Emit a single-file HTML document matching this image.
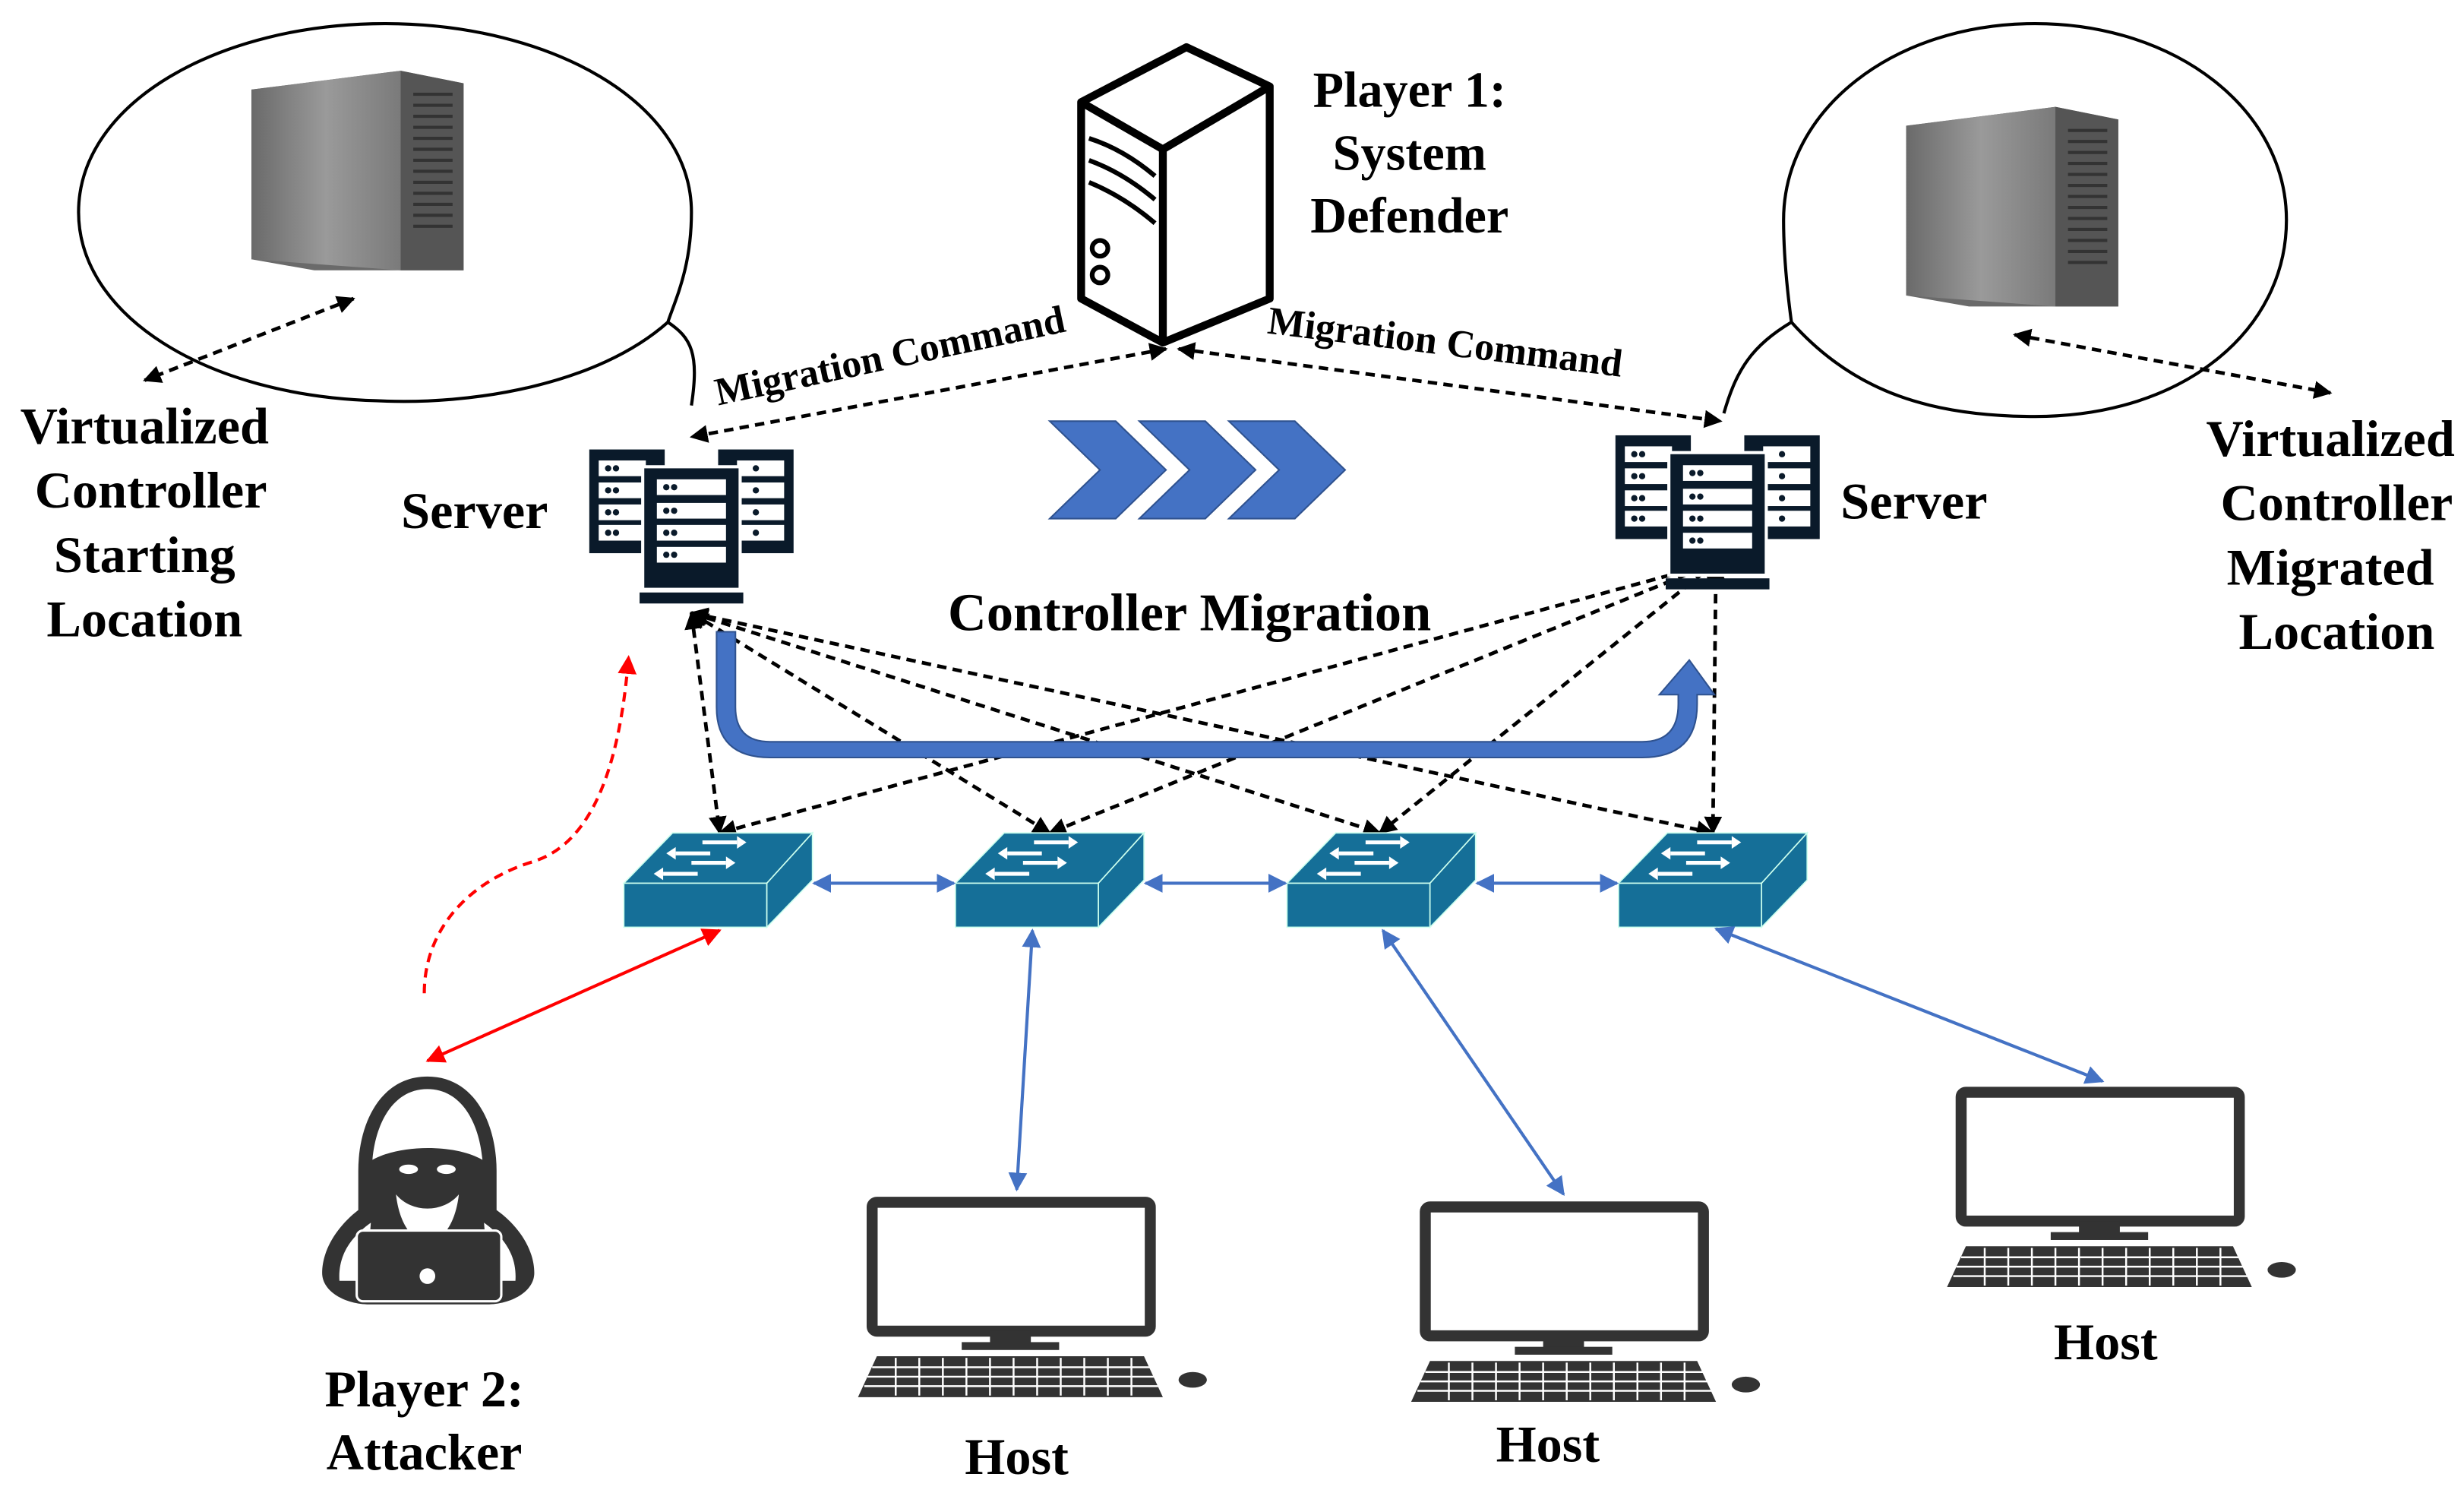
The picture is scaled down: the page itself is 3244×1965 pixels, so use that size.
<!DOCTYPE html>
<html><head><meta charset="utf-8"><style>
html,body{margin:0;padding:0;background:#fff;}
svg{display:block;}
text{font-family:"Liberation Serif",serif;font-weight:bold;fill:#000;}
</style></head><body>
<svg width="3244" height="1965" viewBox="0 0 1568 950" preserveAspectRatio="none" xmlns="http://www.w3.org/2000/svg">
<defs>
<marker id="ak" viewBox="0 0 10 10" refX="9" refY="5" markerWidth="5" markerHeight="5" orient="auto-start-reverse"><path d="M0,0L10,5L0,10z" fill="#000"/></marker>
<marker id="ab" viewBox="0 0 10 10" refX="9" refY="5" markerWidth="6" markerHeight="6" orient="auto-start-reverse"><path d="M0,0L10,5L0,10z" fill="#4472C4"/></marker>
<marker id="ar" viewBox="0 0 10 10" refX="9" refY="5" markerWidth="6" markerHeight="6" orient="auto-start-reverse"><path d="M0,0L10,5L0,10z" fill="#f00"/></marker>
<linearGradient id="gs" x1="0" x2="1"><stop offset="0" stop-color="#6a6a6a"/><stop offset="0.5" stop-color="#9a9a9a"/><stop offset="1" stop-color="#7a7a7a"/></linearGradient>
<g id="srv">
 <rect x="0" y="2" width="48" height="66" fill="#0a1a2a"/>
 <rect x="82" y="2" width="48" height="66" fill="#0a1a2a"/>
 <g fill="#fff"><rect x="6" y="9" width="30" height="10"/><rect x="6" y="23" width="30" height="10"/><rect x="6" y="37" width="30" height="10"/><rect x="6" y="50" width="30" height="10"/>
 <rect x="94" y="9" width="30" height="10"/><rect x="94" y="23" width="30" height="10"/><rect x="94" y="37" width="30" height="10"/><rect x="94" y="50" width="30" height="10"/></g>
 <rect x="33" y="12" width="64" height="80" fill="#fff"/>
 <rect x="35" y="14" width="60" height="76" fill="#0a1a2a"/>
 <g fill="#fff"><rect x="43" y="21" width="44" height="10"/><rect x="43" y="36" width="44" height="10"/><rect x="43" y="50" width="44" height="10"/><rect x="43" y="64" width="44" height="10"/></g>
 <g fill="#0a1a2a"><circle cx="12" cy="14" r="2"/><circle cx="17" cy="14" r="2"/><circle cx="12" cy="28" r="2"/><circle cx="17" cy="28" r="2"/><circle cx="12" cy="42" r="2"/><circle cx="17" cy="42" r="2"/><circle cx="12" cy="55" r="2"/><circle cx="17" cy="55" r="2"/>
 <circle cx="49" cy="26" r="2"/><circle cx="54" cy="26" r="2"/><circle cx="49" cy="41" r="2"/><circle cx="54" cy="41" r="2"/><circle cx="49" cy="55" r="2"/><circle cx="54" cy="55" r="2"/><circle cx="49" cy="69" r="2"/><circle cx="54" cy="69" r="2"/>
 <circle cx="106" cy="14" r="2"/><circle cx="106" cy="28" r="2"/><circle cx="106" cy="42" r="2"/><circle cx="106" cy="55" r="2"/></g>
 <rect x="32" y="93" width="66" height="7" fill="#0a1a2a"/>
</g>
<g id="sw">
 <polygon points="0,32 31,0 120,0 91,32" fill="#156f98" stroke="#cfe" stroke-width="0.8"/>
 <rect x="0" y="32" width="91" height="28" fill="#156f98" stroke="#cfe" stroke-width="0.8"/>
 <polygon points="91,32 120,0 120,30 91,60" fill="#156f98" stroke="#cfe" stroke-width="0.8"/>
 <g stroke="#fff" stroke-width="2.5" fill="#fff">
 <line x1="50" y1="6" x2="72" y2="6"/><polygon points="72,2 78,6 72,10" stroke="none"/>
 <line x1="33" y1="13" x2="55" y2="13"/><polygon points="33,9 27,13 33,17" stroke="none"/>
 <line x1="43" y1="19" x2="65" y2="19"/><polygon points="65,15 71,19 65,23" stroke="none"/>
 <line x1="25" y1="26" x2="47" y2="26"/><polygon points="25,22 19,26 25,30" stroke="none"/></g>
</g>
<g id="pc">
 <rect x="5" y="0" width="177" height="82" rx="3" fill="none" stroke="#333" stroke-width="7"/>
 <rect x="80" y="82" width="26" height="8" fill="#333"/>
 <rect x="62" y="89" width="62" height="5" fill="#333"/>
 <polygon points="8,98 178,98 190,124 -4,124" fill="#333"/>
 <g stroke="#fff" stroke-width="1.2"><line x1="5" y1="105" x2="182" y2="105"/><line x1="2" y1="111" x2="185" y2="111"/><line x1="0" y1="117" x2="188" y2="117"/>
 <path d="M20 99V123M35 99V123M50 99V123M65 99V123M80 99V123M95 99V123M110 99V123M125 99V123M140 99V123M155 99V123M170 99V123"/></g>
 <ellipse cx="209" cy="113" rx="9" ry="5" fill="#333"/>
</g>
<g id="gsrv">
 <polygon points="0,12 95,0 135,8 135,127 40,127 0,120" fill="#6a6a6a"/>
 <polygon points="0,12 95,0 95,127 0,120" fill="url(#gs)"/>
 <polygon points="95,0 135,8 135,127 95,127" fill="#555"/>
 <g stroke="#333" stroke-width="2"><path d="M103 15H128M103 22H128M103 29H128M103 36H128M103 43H128M103 50H128M103 57H128M103 64H128M103 71H128M103 78H128M103 85H128M103 92H128M103 99H128"/></g>
</g>
</defs>

<path d="M440,258 C445,225 440,215 425,205 C380,245 300,258 240,255 C130,252 50,200 50,135 C50,65 140,15 245,15 C350,15 440,65 440,135 C440,170 430,190 425,205" fill="none" stroke="#000" stroke-width="2"/>
<path d="M1097,263 C1105,235 1115,220 1140,205 C1180,250 1230,265 1295,265 C1390,265 1455,210 1455,140 C1455,70 1385,15 1295,15 C1205,15 1135,70 1135,140 C1135,165 1138,190 1140,205" fill="none" stroke="#000" stroke-width="2"/>
<use href="#gsrv" x="160" y="45"/>
<use href="#gsrv" x="1213" y="68"/>

<g stroke="#000" stroke-width="5" fill="#fff" stroke-linejoin="round">
<polygon points="688,65 755,30 808,55 808,190 740,218 688,190"/>
<polyline points="688,65 740,95 808,55" fill="none"/>
<line x1="740" y1="95" x2="740" y2="218"/>
<path d="M693,88 Q715,95 735,112 M693,102 Q715,110 735,127 M693,116 Q715,125 735,142" fill="none" stroke-width="3"/>
<circle cx="700" cy="158" r="5" stroke-width="3"/><circle cx="700" cy="175" r="5" stroke-width="3"/>
</g>
<text x="897" y="68" font-size="32" text-anchor="middle">Player 1:</text>
<text x="897" y="108" font-size="32" text-anchor="middle">System</text>
<text x="897" y="148" font-size="32" text-anchor="middle">Defender</text>

<text font-size="25" transform="translate(457,258) rotate(-12)">Migration Command</text>
<text font-size="25" transform="translate(806,212) rotate(7)">Migration Command</text>

<g stroke="#000" stroke-width="2.3" stroke-dasharray="6,4" fill="none" marker-start="url(#ak)" marker-end="url(#ak)">
<line x1="742" y1="222" x2="440" y2="278"/>
<line x1="750" y1="222" x2="1095" y2="268"/>
<line x1="225" y1="190" x2="92" y2="242"/>
<line x1="1282" y1="213" x2="1483" y2="250"/>
<line x1="440" y1="390" x2="458" y2="530"/>
<line x1="440" y1="390" x2="668" y2="530"/>
<line x1="440" y1="390" x2="878" y2="530"/>
<line x1="440" y1="390" x2="1090" y2="530"/>
<line x1="1092" y1="358" x2="458" y2="530"/>
<line x1="1092" y1="358" x2="668" y2="530"/>
<line x1="1092" y1="358" x2="878" y2="530"/>
<line x1="1092" y1="358" x2="1090" y2="530"/>
</g>

<text x="92" y="282" font-size="33" text-anchor="middle">Virtualized</text>
<text x="96" y="323" font-size="33" text-anchor="middle">Controller</text>
<text x="92" y="364" font-size="33" text-anchor="middle">Starting</text>
<text x="92" y="405" font-size="33" text-anchor="middle">Location</text>
<text x="1483" y="290" font-size="33" text-anchor="middle">Virtualized</text>
<text x="1487" y="331" font-size="33" text-anchor="middle">Controller</text>
<text x="1483" y="372" font-size="33" text-anchor="middle">Migrated</text>
<text x="1487" y="413" font-size="33" text-anchor="middle">Location</text>

<use href="#srv" x="375" y="284"/>
<use href="#srv" x="1028" y="275"/>
<text x="302" y="336" font-size="33" text-anchor="middle">Server</text>
<text x="1218" y="330" font-size="33" text-anchor="middle">Server</text>

<g fill="#4472C4" stroke="#2f528f" stroke-width="1">
<polygon points="668,268 710,268 742,299 710,330 668,330 700,299"/>
<polygon points="725,268 767,268 799,299 767,330 725,330 757,299"/>
<polygon points="782,268 824,268 856,299 824,330 782,330 814,299"/>
</g>
<text x="757" y="401" font-size="34" text-anchor="middle">Controller Migration</text>

<path d="M456,402 V450 Q456,482 490,482 H1045 Q1080,482 1080,448 V442 H1091 L1075,420 L1056,442 H1068 V448 Q1068,472 1045,472 H490 Q468,472 468,450 V402 Z" fill="#4472C4" stroke="#2f528f" stroke-width="1"/>

<use href="#sw" x="397" y="530"/>
<use href="#sw" x="608" y="530"/>
<use href="#sw" x="819" y="530"/>
<use href="#sw" x="1030" y="530"/>

<g stroke="#4472C4" stroke-width="2" marker-start="url(#ab)" marker-end="url(#ab)">
<line x1="518" y1="562" x2="607" y2="562"/>
<line x1="729" y1="562" x2="818" y2="562"/>
<line x1="940" y1="562" x2="1029" y2="562"/>
<line x1="657" y1="592" x2="647" y2="757"/>
<line x1="880" y1="592" x2="995" y2="760"/>
<line x1="1092" y1="591" x2="1338" y2="688"/>
</g>

<line x1="458" y1="592" x2="272" y2="675" stroke="#f00" stroke-width="2" marker-start="url(#ar)" marker-end="url(#ar)"/>
<path d="M270,632 C270,590 300,560 340,548 C380,535 395,480 400,418" fill="none" stroke="#f00" stroke-width="2" stroke-dasharray="6,4" marker-end="url(#ar)"/>

<g fill="#333">
<path d="M272,685 C242,685 228,715 228,745 L228,770 C215,780 205,795 205,810 C205,822 220,830 235,830 L310,830 C325,830 340,822 340,810 C340,795 330,780 316,770 L316,745 C316,715 302,685 272,685 Z"/>
</g>
<path d="M272,693 C250,693 239,715 237,738 C255,728 290,728 307,738 C305,715 294,693 272,693 Z" fill="#fff"/>
<path d="M252,760 C262,772 282,772 292,760 C290,778 282,790 272,790 C262,790 254,778 252,760 Z" fill="#fff"/>
<ellipse cx="260" cy="744" rx="6" ry="3" fill="#fff"/><ellipse cx="284" cy="744" rx="6" ry="3" fill="#fff"/>
<path d="M236,778 C222,788 215,800 216,815 L233,815 Z M308,778 C322,788 329,800 328,815 L311,815 Z" fill="#fff"/>
<rect x="227" y="783" width="92" height="45" rx="4" fill="#333" stroke="#fff" stroke-width="1.5"/>
<circle cx="272" cy="812" r="5" fill="#fff"/>
<text x="270" y="895" font-size="33" text-anchor="middle">Player 2:</text>
<text x="270" y="935" font-size="33" text-anchor="middle">Attacker</text>

<use href="#pc" x="550" y="765"/>
<use href="#pc" x="902" y="768"/>
<use href="#pc" x="1243" y="695"/>
<text x="647" y="938" font-size="33" text-anchor="middle">Host</text>
<text x="985" y="930" font-size="33" text-anchor="middle">Host</text>
<text x="1340" y="865" font-size="33" text-anchor="middle">Host</text>
</svg>
</body></html>
